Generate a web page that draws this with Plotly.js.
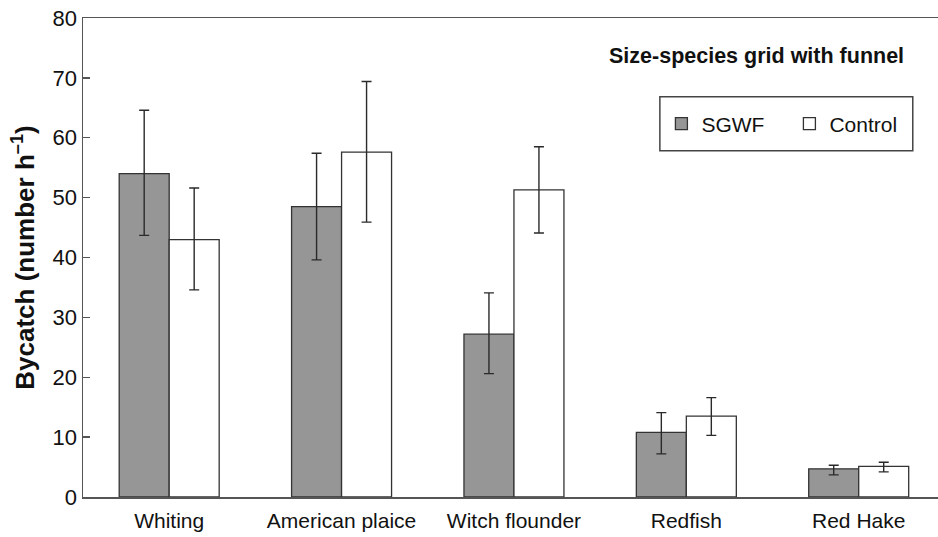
<!DOCTYPE html>
<html>
<head>
<meta charset="utf-8">
<script src="https://cdn.plot.ly/plotly-3.0.1.min.js"></script>
<style>html,body{margin:0;padding:0;background:#fff;}#chart{width:938px;height:537px;}</style>
</head>
<body>
<div id="chart"></div>
<script>
const categories = ['Whiting', 'American plaice', 'Witch flounder', 'Redfish', 'Red Hake'];
const sgwf      = [54.0, 48.5, 27.2, 10.8, 4.7];
const sgwfHigh  = [64.6, 57.4, 34.1, 14.1, 5.3];
const sgwfLow   = [43.7, 39.6, 20.6, 7.2, 3.7];
const control     = [43.0, 57.6, 51.3, 13.5, 5.1];
const controlHigh = [51.6, 69.4, 58.5, 16.6, 5.8];
const controlLow  = [34.6, 45.9, 44.1, 10.3, 4.2];
const yTicks = [0, 10, 20, 30, 40, 50, 60, 70, 80];

const FONT = 'Liberation Sans, Arial, Helvetica, sans-serif';
const up = (v, hi) => v.map((x, i) => +(hi[i] - x).toFixed(2));
const down = (v, lo) => v.map((x, i) => +(x - lo[i]).toFixed(2));

const errStyle = {type: 'data', symmetric: false, color: '#2a2a2a', thickness: 1.4, width: 5};

const traces = [
  {
    type: 'bar', name: 'SGWF', x: categories, y: sgwf,
    marker: {color: '#969696', line: {color: '#333333', width: 1.3}},
    error_y: Object.assign({array: up(sgwf, sgwfHigh), arrayminus: down(sgwf, sgwfLow)}, errStyle)
  },
  {
    type: 'bar', name: 'Control', x: categories, y: control,
    marker: {color: '#ffffff', line: {color: '#333333', width: 1.3}},
    error_y: Object.assign({array: up(control, controlHigh), arrayminus: down(control, controlLow)}, errStyle)
  }
];

const layout = {
  width: 938, height: 537,
  margin: {l: 83, r: 0, t: 18, b: 40},
  paper_bgcolor: '#ffffff', plot_bgcolor: '#ffffff',
  font: {family: FONT, size: 21, color: '#111111'},
  barmode: 'group', bargap: 0.42, bargroupgap: 0,
  showlegend: true,
  legend: {
    orientation: 'h', x: 0.6765, xanchor: 'left', y: 0.7787, yanchor: 'middle',
    bgcolor: 'rgba(0,0,0,0)', borderwidth: 0,
    font: {family: FONT, size: 21, color: '#111111'},
    entrywidth: 83, entrywidthmode: 'pixels', itemclick: false
  },
  xaxis: {
    type: 'category', range: [-0.5, 4.46],
    showline: true, linecolor: '#555555', linewidth: 1.5, mirror: true,
    ticks: '', showgrid: false, zeroline: false,
    tickfont: {family: FONT, size: 21, color: '#111111'},
    ticklabelstandoff: 4
  },
  yaxis: {
    range: [0, 80], tickvals: yTicks, ticktext: yTicks.map(String),
    showline: true, linecolor: '#555555', linewidth: 1.5,
    ticks: 'inside', ticklen: 7, tickcolor: '#555555', tickwidth: 1.3,
    showgrid: false, zeroline: false,
    tickfont: {family: FONT, size: 22, color: '#111111'},
    title: {text: '<b>Bycatch (number h<sup>\u20131</sup>)</b>', font: {family: FONT, size: 26, color: '#111111'}, standoff: 10}
  },
  shapes: [
    {type: 'rect', xref: 'paper', yref: 'paper', x0: 0.6747, x1: 0.9705, y0: 0.723, y1: 0.8357,
     line: {color: '#444444', width: 1.5}, fillcolor: 'rgba(0,0,0,0)'}
  ],
  annotations: [
    {xref: 'paper', yref: 'paper', x: 0.7877, y: 0.921, xanchor: 'center', yanchor: 'middle', showarrow: false,
     text: '<b>Size-species grid with funnel</b>', font: {family: FONT, size: 21.5, color: '#111111'}}
  ]
};

Plotly.newPlot('chart', traces, layout, {displayModeBar: false, staticPlot: true});
</script>
</body>
</html>
